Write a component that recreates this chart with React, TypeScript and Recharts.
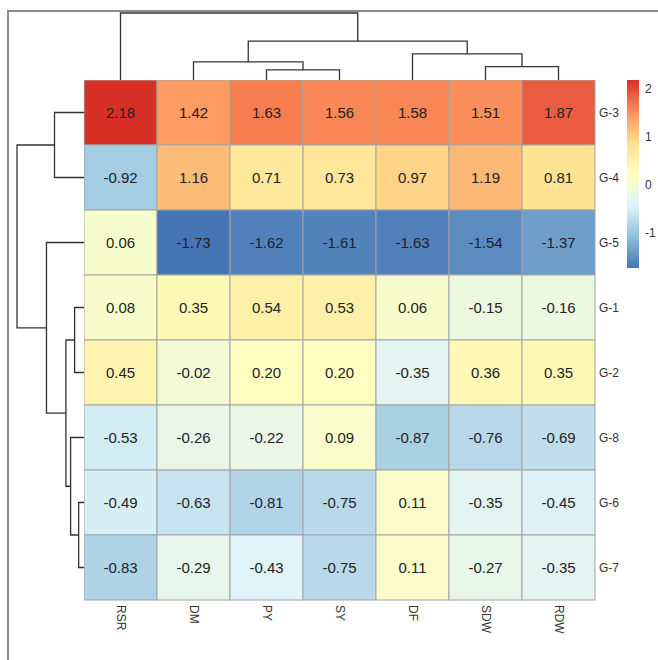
import React from "react";
import { ScatterChart, Scatter, BarChart, Bar, XAxis, YAxis } from "recharts";

// heatmap layout (px)
const GRID_LEFT = 83.5;
const GRID_TOP = 80;
const GRID_W = 511;
const GRID_H = 520;
const TREE_TOP = 67;
const TREE_LEFT = 67;

const columns = ["RSR", "DM", "PY", "SY", "DF", "SDW", "RDW"];
const rows = ["G-3", "G-4", "G-5", "G-1", "G-2", "G-8", "G-6", "G-7"];

const g3 = [2.18, 1.42, 1.63, 1.56, 1.58, 1.51, 1.87];
const g4 = [-0.92, 1.16, 0.71, 0.73, 0.97, 1.19, 0.81];
const g5 = [0.06, -1.73, -1.62, -1.61, -1.63, -1.54, -1.37];
const g1 = [0.08, 0.35, 0.54, 0.53, 0.06, -0.15, -0.16];
const g2 = [0.45, -0.02, 0.2, 0.2, -0.35, 0.36, 0.35];
const g8 = [-0.53, -0.26, -0.22, 0.09, -0.87, -0.76, -0.69];
const g6 = [-0.49, -0.63, -0.81, -0.75, 0.11, -0.35, -0.45];
const g7 = [-0.83, -0.29, -0.43, -0.75, 0.11, -0.27, -0.35];
const values = [g3, g4, g5, g1, g2, g8, g6, g7];

// clustering: [left, right, height]; strings are leaves, numbers refer to earlier merges
type Node = string | number;
const colMerges: [Node, Node, number][] = [
  ["PY", "SY", 0.15],
  ["SDW", "RDW", 0.2],
  ["DM", 0, 0.27],
  ["DF", 1, 0.39],
  [2, 3, 0.58],
  ["RSR", 4, 1],
];
const rowMerges: [Node, Node, number][] = [
  ["G-6", "G-7", 0.08],
  ["G-1", "G-2", 0.14],
  ["G-8", 0, 0.2],
  [1, 2, 0.27],
  ["G-3", "G-4", 0.44],
  ["G-5", 3, 0.56],
  [4, 5, 1],
];

const legendTicks = [-1, 0, 1, 2];
const palette = ["#4575B4", "#91BFDB", "#E0F3F8", "#FFFFBF", "#FEE090", "#FC8D59", "#D73027"];

const allValues = values.flat();
const vMin = Math.min(...allValues);
const vMax = Math.max(...allValues);
const legendData = [{ key: "value", span: [vMin, vMax] }];

function hexToRgb(h: string) {
  return [1, 3, 5].map((i) => parseInt(h.slice(i, i + 2), 16));
}

function colorFor(v: number) {
  const t = ((v - vMin) / (vMax - vMin)) * (palette.length - 1);
  const i = Math.max(0, Math.min(Math.floor(t), palette.length - 2));
  const f = t - i;
  const a = hexToRgb(palette[i]);
  const b = hexToRgb(palette[i + 1]);
  const c = a.map((x, k) => Math.round(x + (b[k] - x) * f));
  return `rgb(${c[0]},${c[1]},${c[2]})`;
}

function buildTree(leaves: string[], merges: [Node, Node, number][]) {
  const pos: number[] = [];
  const hgt: number[] = [];
  const at = (n: Node) =>
    typeof n === "string" ? [leaves.indexOf(n) + 0.5, 0] : [pos[n], hgt[n]];
  return merges.map(([a, b, h], i) => {
    const [pa, ha] = at(a);
    const [pb, hb] = at(b);
    pos[i] = (pa + pb) / 2;
    hgt[i] = h;
    return [
      { p: pa, h: ha },
      { p: pa, h },
      { p: pb, h },
      { p: pb, h: hb },
    ];
  });
}

const colTree = buildTree(columns, colMerges);
const rowTree = buildTree(rows, rowMerges);

const cells = rows.flatMap((r, i) =>
  columns.map((c, j) => ({ col: j + 0.5, row: i + 0.5, value: values[i][j] }))
);

const CELL_W = GRID_W / columns.length;
const CELL_H = GRID_H / rows.length;

const renderCell = (props: any) => {
  const { cx, cy } = props;
  const v = props.payload.value as number;
  return (
    <g>
      <rect
        x={cx - CELL_W / 2}
        y={cy - CELL_H / 2}
        width={CELL_W}
        height={CELL_H}
        fill={colorFor(v)}
        stroke="#a3a3a3"
        strokeWidth={1}
      />
      <text x={cx} y={cy} textAnchor="middle" dominantBaseline="central" fontSize={15} fill="#222">
        {v.toFixed(2)}
      </text>
    </g>
  );
};

const noDot = () => <g />;

const renderKey = (props: any) => {
  const { x, y, width, height } = props;
  return (
    <g>
      <defs>
        <linearGradient id="legendGrad" x1="0" y1="0" x2="0" y2="1">
          {palette
            .slice()
            .reverse()
            .map((c, i) => (
              <stop key={c} offset={i / (palette.length - 1)} stopColor={c} />
            ))}
        </linearGradient>
      </defs>
      <rect x={x} y={y} width={width} height={height} fill="url(#legendGrad)" />
    </g>
  );
};

const ColTick = (props: any) => {
  const { x, y, payload } = props;
  return (
    <text
      transform={`translate(${x},${y}) rotate(90)`}
      textAnchor="start"
      dominantBaseline="central"
      fontSize={12}
      fill="#333"
    >
      {columns[Math.floor(payload.value)]}
    </text>
  );
};

const RowTick = (props: any) => {
  const { x, y, payload } = props;
  return (
    <text x={x} y={y} textAnchor="start" dominantBaseline="central" fontSize={12} fill="#333">
      {rows[Math.floor(payload.value)]}
    </text>
  );
};

const LegendTick = (props: any) => {
  const { x, y, payload } = props;
  return (
    <text x={x} y={y} textAnchor="start" dominantBaseline="central" fontSize={12} fill="#333">
      {payload.value}
    </text>
  );
};

const lineStyle = { stroke: "#333", strokeWidth: 1.3 };

export default function App() {
  return (
    <div
      style={{
        position: "fixed",
        left: 0,
        top: 0,
        width: 658,
        height: 660,
        background: "#fff",
        overflow: "hidden",
        fontFamily: "'Liberation Sans', Arial, sans-serif",
      }}
    >
      <div
        style={{
          position: "absolute",
          left: 7,
          top: 10,
          width: 700,
          height: 700,
          borderLeft: "2px solid #8c8c8c",
          borderTop: "2px solid #8c8c8c",
        }}
      />

      {/* column dendrogram */}
      <div style={{ position: "absolute", left: GRID_LEFT, top: GRID_TOP - TREE_TOP - 2 }}>
        <ScatterChart width={GRID_W} height={TREE_TOP + 2} margin={{ top: 2, right: 0, bottom: 0, left: 0 }}>
          <XAxis type="number" dataKey="p" domain={[0, columns.length]} hide />
          <YAxis type="number" dataKey="h" domain={[0, 1]} hide />
          {colTree.map((seg, i) => (
            <Scatter key={i} data={seg} line={lineStyle} shape={noDot} isAnimationActive={false} />
          ))}
        </ScatterChart>
      </div>

      {/* row dendrogram */}
      <div style={{ position: "absolute", left: GRID_LEFT - TREE_LEFT - 2, top: GRID_TOP }}>
        <ScatterChart width={TREE_LEFT + 2} height={GRID_H} margin={{ top: 0, right: 0, bottom: 0, left: 2 }}>
          <XAxis type="number" dataKey="h" domain={[0, 1]} reversed hide />
          <YAxis type="number" dataKey="p" domain={[0, rows.length]} reversed hide />
          {rowTree.map((seg, i) => (
            <Scatter key={i} data={seg} line={lineStyle} shape={noDot} isAnimationActive={false} />
          ))}
        </ScatterChart>
      </div>

      {/* heatmap */}
      <div style={{ position: "absolute", left: GRID_LEFT, top: GRID_TOP }}>
        <ScatterChart width={GRID_W + 40} height={GRID_H + 58} margin={{ top: 0, right: 0, bottom: 0, left: 0 }}>
          <XAxis
            type="number"
            dataKey="col"
            domain={[0, columns.length]}
            ticks={columns.map((_, i) => i + 0.5)}
            interval={0}
            tick={<ColTick />}
            axisLine={false}
            tickLine={false}
            tickSize={0}
            tickMargin={5}
            height={58}
          />
          <YAxis
            type="number"
            dataKey="row"
            domain={[0, rows.length]}
            reversed
            orientation="right"
            ticks={rows.map((_, i) => i + 0.5)}
            interval={0}
            tick={<RowTick />}
            axisLine={false}
            tickLine={false}
            tickSize={0}
            tickMargin={4}
            width={40}
          />
          <Scatter data={cells} shape={renderCell} isAnimationActive={false} />
        </ScatterChart>
      </div>

      {/* colour key */}
      <div style={{ position: "absolute", left: 627, top: 80 }}>
        <BarChart
          width={12 + 28}
          height={188}
          data={legendData}
          margin={{ top: 0, right: 0, bottom: 0, left: 0 }}
          barCategoryGap={0}
        >
          <XAxis dataKey="key" hide />
          <YAxis
            type="number"
            domain={[vMin, vMax]}
            allowDataOverflow
            orientation="right"
            ticks={legendTicks}
            interval={0}
            tick={<LegendTick />}
            axisLine={false}
            tickLine={false}
            tickSize={0}
            tickMargin={6}
            width={28}
          />
          <Bar dataKey="span" shape={renderKey} isAnimationActive={false} />
        </BarChart>
      </div>
    </div>
  );
}
